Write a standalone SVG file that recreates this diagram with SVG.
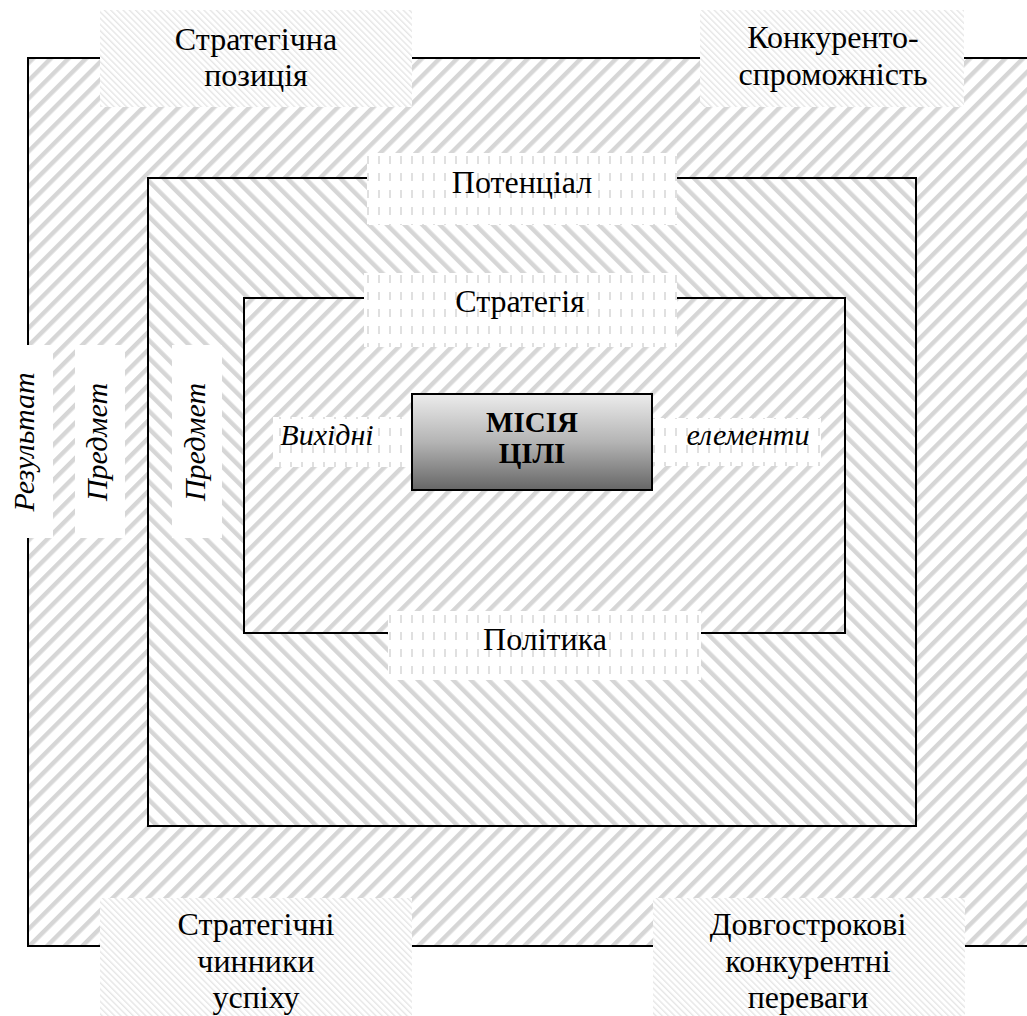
<svg xmlns="http://www.w3.org/2000/svg" width="1027" height="1016" viewBox="0 0 1027 1016">
  <defs>
    <!-- wide "/" stripes -->
    <pattern id="stripeFwd" patternUnits="userSpaceOnUse" width="12.5" height="12.5" patternTransform="rotate(45)">
      <rect width="12.5" height="12.5" fill="#ffffff"/>
      <rect x="0" y="0" width="4.4" height="12.5" fill="#d6d6d6"/>
    </pattern>
    <!-- wide "\" stripes -->
    <pattern id="stripeBack" patternUnits="userSpaceOnUse" width="12.5" height="12.5" patternTransform="rotate(-45)">
      <rect width="12.5" height="12.5" fill="#ffffff"/>
      <rect x="0" y="0" width="4.4" height="12.5" fill="#d6d6d6"/>
    </pattern>
    <!-- fine "\" hatch for corner captions -->
    <pattern id="fineHatch" patternUnits="userSpaceOnUse" width="4.4" height="4.4" patternTransform="rotate(-45)">
      <rect width="4.4" height="4.4" fill="#ffffff"/>
      <rect x="0" y="0" width="1.4" height="4.4" fill="#e6e6e6"/>
    </pattern>
    <!-- vertical dashes for inner captions -->
    <pattern id="dashes" patternUnits="userSpaceOnUse" width="11" height="17">
      <rect width="11" height="17" fill="#ffffff"/>
      <rect x="4" y="3" width="2" height="8" fill="#e0e0e0"/>
    </pattern>
    <linearGradient id="coreFill" x1="0" y1="0" x2="0" y2="1">
      <stop offset="0" stop-color="#ececec"/>
      <stop offset="0.5" stop-color="#b4b4b4"/>
      <stop offset="1" stop-color="#666666"/>
    </linearGradient>
    <style>
      .frame { stroke: #000; stroke-width: 2; }
      .lbl { font-family: "Liberation Serif", "Times New Roman", "DejaVu Serif", serif; font-size: 32px; fill: #000; text-anchor: middle; }
      .it { font-style: italic; font-size: 30px; }
      .bold { font-weight: bold; font-size: 29px; }
    </style>
  </defs>

  <rect width="1027" height="1016" fill="#ffffff"/>

  <!-- nested frames -->
  <g id="frames">
    <rect id="outer-frame" class="frame" x="28" y="58" width="1012" height="888" fill="url(#stripeFwd)"/>
    <rect id="middle-frame" class="frame" x="148" y="178" width="768" height="648" fill="url(#stripeBack)"/>
    <rect id="inner-frame" class="frame" x="244" y="298" width="601" height="335" fill="url(#stripeFwd)"/>
  </g>

  <!-- outer corner captions -->
  <g id="strategic-position">
    <rect x="100" y="10" width="312" height="97" fill="url(#fineHatch)"/>
    <text class="lbl" x="256" y="50">Стратегічна</text>
    <text class="lbl" x="256" y="86">позиція</text>
  </g>
  <g id="competitiveness">
    <rect x="700" y="10" width="264" height="97" fill="url(#fineHatch)"/>
    <text class="lbl" x="833" y="48">Конкуренто-</text>
    <text class="lbl" x="833" y="85">спроможність</text>
  </g>
  <g id="success-factors">
    <rect x="100" y="898" width="312" height="118" fill="url(#fineHatch)"/>
    <text class="lbl" x="256" y="935">Стратегічні</text>
    <text class="lbl" x="256" y="972">чинники</text>
    <text class="lbl" x="256" y="1008">успіху</text>
  </g>
  <g id="long-term-advantages">
    <rect x="653" y="898" width="312" height="118" fill="url(#fineHatch)"/>
    <text class="lbl" x="808" y="935">Довгострокові</text>
    <text class="lbl" x="808" y="972">конкурентні</text>
    <text class="lbl" x="808" y="1008">переваги</text>
  </g>

  <!-- side captions (vertical) -->
  <g id="result">
    <rect x="4" y="345" width="49" height="193" fill="#ffffff"/>
    <text class="lbl it" transform="translate(34,442) rotate(-90)">Результат</text>
  </g>
  <g id="subject-outer">
    <rect x="75" y="345" width="50" height="193" fill="#ffffff"/>
    <text class="lbl it" transform="translate(107,442) rotate(-90)">Предмет</text>
  </g>
  <g id="subject-inner">
    <rect x="172" y="345" width="50" height="193" fill="#ffffff"/>
    <text class="lbl it" transform="translate(205,442) rotate(-90)">Предмет</text>
  </g>

  <!-- frame captions -->
  <g id="potential">
    <rect x="367" y="153" width="310" height="72" fill="url(#dashes)"/>
    <text class="lbl" x="522" y="193">Потенціал</text>
  </g>
  <g id="strategy">
    <rect x="364" y="273" width="313" height="74" fill="url(#dashes)"/>
    <text class="lbl" x="520" y="312">Стратегія</text>
  </g>
  <g id="policy">
    <rect x="388" y="611" width="313" height="69" fill="url(#dashes)"/>
    <text class="lbl" x="545" y="650">Політика</text>
  </g>
  <g id="initial">
    <rect x="273" y="417" width="139" height="50" fill="url(#dashes)"/>
    <text class="lbl it" x="327" y="445">Вихідні</text>
  </g>
  <g id="elements">
    <rect x="653" y="418" width="168" height="48" fill="url(#dashes)"/>
    <text class="lbl it" x="748" y="445">елементи</text>
  </g>

  <!-- core -->
  <g id="mission-goals">
    <rect x="412" y="394" width="240" height="96" fill="url(#coreFill)" stroke="#000" stroke-width="2"/>
    <text class="lbl bold" x="532" y="432">МІСІЯ</text>
    <text class="lbl bold" x="532" y="463">ЦІЛІ</text>
  </g>
</svg>
